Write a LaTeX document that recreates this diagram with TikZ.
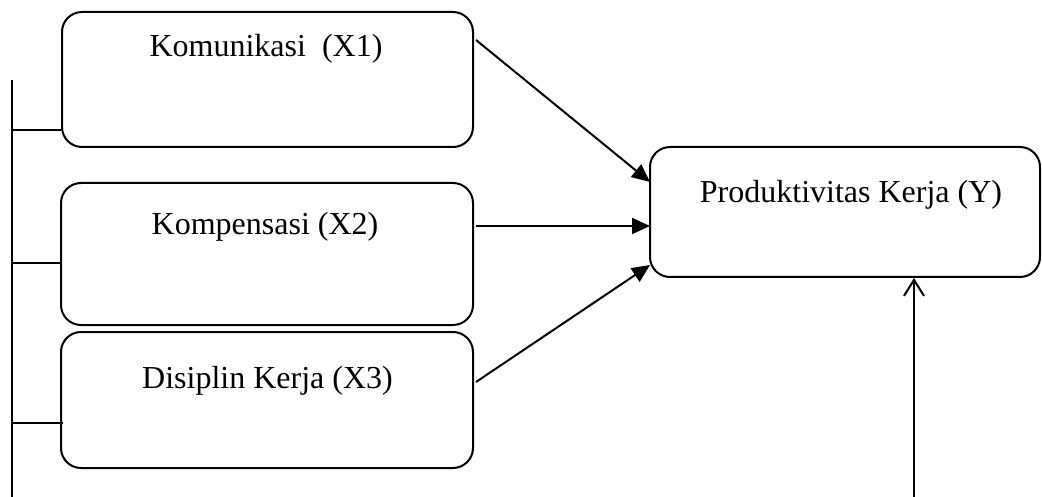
\documentclass[tikz,border=0pt]{standalone}
\usepackage{fontspec}
\setmainfont{Liberation Serif}
\usetikzlibrary{arrows.meta}
\begin{document}
\begin{tikzpicture}[x=1pt,y=-1pt,
  box/.style={draw, line width=2pt, rounded corners=20pt, inner sep=0pt},
  lbl/.style={anchor=base, inner sep=0pt, font=\fontsize{32}{38}\selectfont},
  link/.style={line width=2pt},
  arr/.style={line width=2pt, -{Triangle[length=18pt,width=16pt]}},
  openarr/.style={line width=2pt, -{Straight Barb[length=16pt,width=20pt,line width=2pt]}}]
\useasboundingbox (0,0) rectangle (1042,497);
% boxes
\node[box, minimum width=411pt, minimum height=135pt] (b1) at (267.5,79.5) {};
\node[box, minimum width=412pt, minimum height=142pt] (b2) at (267,254) {};
\node[box, minimum width=412pt, minimum height=136pt] (b3) at (267,400) {};
\node[box, minimum width=390pt, minimum height=130pt] (y) at (845,212) {};
% labels
\node[lbl] (t1) at (266,57) {Komunikasi\ \ (X1)};
\node[lbl] (t2) at (265,235) {Kompensasi (X2)};
\node[lbl] (t3) at (267.5,388) {Disiplin Kerja (X3)};
\node[lbl] (ty) at (851,203) {Produktivitas Kerja (Y)};
% left bracket line
\coordinate (ltop) at (12,80);
\coordinate (lbot) at (12,497);
\coordinate (l1) at (12,130);
\coordinate (l2) at (12,263);
\coordinate (l3) at (12,423);
\draw[link] (ltop) -- (lbot);
\draw[link] (l1) -- (b1.west |- l1);
\draw[link] (l2) -- ([xshift=2pt]b2.west |- l2);
\draw[link] (l3) -- ([xshift=3pt]b3.west |- l3);
% arrows
\coordinate (s1) at (476,40);
\coordinate (s2) at (476,226);
\coordinate (s3) at (476,382);
\coordinate (e1) at (650,182);
\coordinate (e2) at (650,226);
\coordinate (e3) at (650,265);
\draw[arr] (s1) -- (e1);
\draw[arr] (s2) -- (e2);
\draw[arr] (s3) -- (e3);
\coordinate (sb) at (914,497);
\draw[openarr] (sb) -- (sb |- y.south);
\end{tikzpicture}
\end{document}
